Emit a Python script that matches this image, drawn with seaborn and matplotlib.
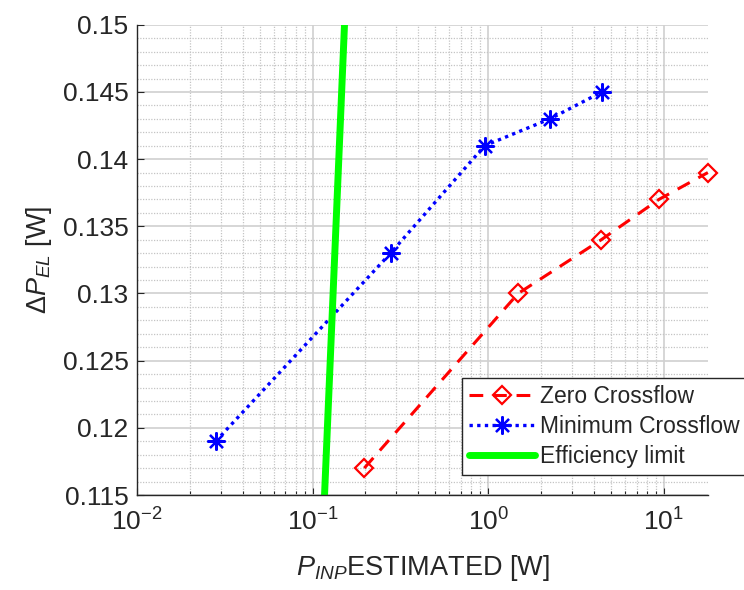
import numpy as np
import pandas as pd
import seaborn as sns
import matplotlib.pyplot as plt
from matplotlib.ticker import LogLocator, MultipleLocator, NullFormatter

# data
zero_x = [0.197, 1.48, 4.40, 9.37, 17.8]
zero_y = [0.117, 0.130, 0.134, 0.137, 0.139]
min_x = [0.0281, 0.278, 0.955, 2.25, 4.44]
min_y = [0.119, 0.133, 0.141, 0.143, 0.145]
limit_x = [0.117, 0.152]
limit_y = [0.115, 0.150]

sns.set_theme(style='white')
plt.rcParams['font.family'] = ['Liberation Sans', 'DejaVu Sans']
plt.rcParams['mathtext.fontset'] = 'custom'
plt.rcParams['mathtext.rm'] = 'Liberation Sans'
plt.rcParams['mathtext.it'] = 'Liberation Sans:italic'
plt.rcParams['mathtext.bf'] = 'Liberation Sans:bold'

fig = plt.figure(figsize=(7.44, 5.9), dpi=100)
ax = fig.add_axes([0.184, 0.161, 0.768, 0.797])

sns.lineplot(x=zero_x, y=zero_y, ax=ax, color='#ff0000', linestyle=(0, (4.5, 3.2)),
             lw=2.2, marker='D', markersize=9, fillstyle='none', mew=1.6,
             mec='#ff0000', label='Zero Crossflow', clip_on=False)
sns.lineplot(x=min_x, y=min_y, ax=ax, color='#0000ff', linestyle=(0, (1, 1.3)), lw=2.4,
             marker=(8, 2, 0), markersize=13, mew=1.6, mec='#0000ff',
             label='Minimum Crossflow', clip_on=False)
sns.lineplot(x=limit_x, y=limit_y, ax=ax, color='#00ff00', lw=5,
             label='Efficiency limit')

ax.set_xscale('log')
ax.set_xlim(0.01, 17.9)
ax.set_ylim(0.115, 0.15)
ax.xaxis.set_major_locator(LogLocator(base=10, numticks=10))
ax.xaxis.set_minor_locator(LogLocator(base=10, subs=np.arange(2, 10), numticks=20))
ax.xaxis.set_minor_formatter(NullFormatter())
ax.yaxis.set_major_locator(MultipleLocator(0.005))
ax.yaxis.set_minor_locator(MultipleLocator(0.001))
ax.set_yticks([0.115, 0.12, 0.125, 0.13, 0.135, 0.14, 0.145, 0.15])
ax.set_yticklabels(['0.115', '0.12', '0.125', '0.13', '0.135', '0.14', '0.145', '0.15'])

ax.grid(True, which='major', color='#d0d0d0', lw=1.2, ls='-')
ax.grid(True, which='minor', color='#c4c4c4', lw=0.9, ls=(0, (1, 1.2)))
ax.set_axisbelow(True)

for s in ['top', 'right']:
    ax.spines[s].set_visible(False)
for s in ['left', 'bottom']:
    ax.spines[s].set_color('#262626')
    ax.spines[s].set_linewidth(1.0)

ax.tick_params(axis='both', which='major', direction='in', length=5, width=0.8,
               labelsize=19, colors='#262626', left=True, bottom=True)
ax.tick_params(axis='x', which='minor', direction='in', length=3, width=0.8,
               bottom=True)
ax.tick_params(axis='y', which='minor', left=False)
ax.tick_params(axis='x', pad=10)
ax.tick_params(axis='y', pad=6)

ax.set_xlabel(r'$P_{INP}$ESTIMATED [W]', fontsize=19.5, color='#262626', labelpad=12)
ax.set_ylabel(r'$\Delta P_{EL}$ [W]', fontsize=19.5, color='#262626', labelpad=6)

leg = ax.legend(loc='upper left', bbox_to_anchor=(0.621, 0.359),
                bbox_transform=fig.transFigure, fontsize=16.5, frameon=True,
                fancybox=False, edgecolor='#262626', framealpha=1,
                handlelength=2.9, handletextpad=0.2, borderpad=0.3,
                labelspacing=0.3, borderaxespad=0)
leg.get_frame().set_linewidth(1.0)

fig.savefig('out.png', dpi=100)
